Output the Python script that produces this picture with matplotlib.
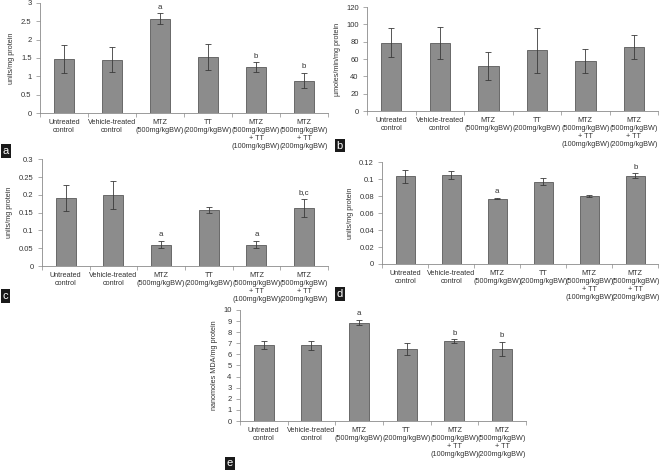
import matplotlib
matplotlib.use("Agg")
import matplotlib.pyplot as plt
import numpy as np

plt.rcParams['font.family'] = ['Liberation Sans', 'DejaVu Sans']

categories = ["Untreated\ncontrol", "Vehicle-treated\ncontrol", "MTZ\n(500mg/kgBW)",
              "TT\n(200mg/kgBW)", "MTZ\n(500mg/kgBW)\n+ TT\n(100mg/kgBW)",
              "MTZ\n(500mg/kgBW)\n+ TT\n(200mg/kgBW)"]

a_vals = [1.47, 1.45, 2.57, 1.53, 1.25, 0.88]
a_err = [0.38, 0.34, 0.14, 0.36, 0.13, 0.21]
a_sig = ["", "", "a", "", "b", "b"]

b_vals = [79, 79, 52, 70, 58, 74]
b_err = [17, 18.5, 16, 26, 14, 14]
b_sig = ["", "", "", "", "", ""]

c_vals = [0.192, 0.200, 0.060, 0.158, 0.060, 0.163]
c_err = [0.037, 0.040, 0.010, 0.008, 0.010, 0.025]
c_sig = ["", "", "a", "", "a", "b,c"]

d_vals = [0.103, 0.105, 0.077, 0.097, 0.080, 0.104]
d_err = [0.008, 0.005, 0.001, 0.004, 0.001, 0.003]
d_sig = ["", "", "a", "", "", "b"]

e_vals = [6.85, 6.80, 8.85, 6.50, 7.20, 6.50]
e_err = [0.35, 0.40, 0.25, 0.55, 0.15, 0.65]
e_sig = ["", "", "a", "", "b", "b"]

panels = [
    ("a", a_vals, a_err, a_sig, "units/mg protein", (0, 3), 0.5, "{:g}",
     [0.0607, 0.760, 0.437, 0.234], (0.004, 0.669)),
    ("b", b_vals, b_err, b_sig, "µmoles/min/mg protein", (0, 120), 20, "{:g}",
     [0.557, 0.764, 0.4416, 0.221], (0.511, 0.680)),
    ("c", c_vals, c_err, c_sig, "units/mg protein", (0, 0.3), 0.05, "{:g}",
     [0.0637, 0.435, 0.434, 0.227], (0.004, 0.361)),
    ("d", d_vals, d_err, d_sig, "units/mg protein", (0, 0.12), 0.02, "{:g}",
     [0.580, 0.4395, 0.419, 0.2165], (0.511, 0.365)),
    ("e", e_vals, e_err, e_sig, "nanomoles MDA/mg protein", (0, 10), 1, "{:g}",
     [0.364, 0.106, 0.434, 0.236], (0.344, 0.006)),
]

fig = plt.figure(figsize=(6.59, 4.71), dpi=100)
txt = "#333333"
axc = "#8a8a8a"
fs = 5.2

for letter, vals, errs, sigs, ylabel, ylim, step, fmt, pos, lpos in panels:
    ax = fig.add_axes(pos)
    x = np.arange(len(vals)) + 0.5
    ax.bar(x, vals, width=0.42, color="#8c8c8c", edgecolor="#5a5a5a", linewidth=0.6, zorder=2)
    ax.errorbar(x, vals, yerr=errs, fmt="none", ecolor="#3a3a3a", elinewidth=0.6,
                capsize=2, capthick=0.6, zorder=3)
    span = ylim[1] - ylim[0]
    for xi, v, e, s in zip(x, vals, errs, sigs):
        if s:
            ax.text(xi, v + e + span * 0.025, s, ha="center", va="bottom", fontsize=fs + 0.5, color=txt)
    ax.set_xlim(0, len(vals))
    ax.set_ylim(*ylim)
    ticks = np.arange(ylim[0], ylim[1] + step / 2, step)
    ax.set_yticks(ticks)
    ax.set_yticklabels([fmt.format(round(t, 4)) for t in ticks])
    ax.set_xticks(np.arange(0, len(vals) + 1))
    ax.set_xticklabels([])
    ax.set_xticks(x, minor=True)
    ax.set_xticklabels(categories, minor=True, fontsize=fs, color=txt, linespacing=1.2)
    ax.tick_params(axis="x", which="minor", length=0, pad=4)
    ax.tick_params(axis="x", which="major", length=3, width=0.5, color=axc, direction="out")
    ax.tick_params(axis="y", length=3, width=0.5, color=axc, labelsize=fs + 0.3, labelcolor=txt, pad=3)
    for sp in ["top", "right"]:
        ax.spines[sp].set_visible(False)
    for sp in ["left", "bottom"]:
        ax.spines[sp].set_color(axc)
        ax.spines[sp].set_linewidth(0.6)
    ax.set_ylabel(ylabel, fontsize=fs, color=txt, labelpad=4)
    fig.text(lpos[0], lpos[1], letter, fontsize=8, color="white", ha="left", va="bottom",
             bbox=dict(boxstyle="square,pad=0.15", facecolor="#1a1a1a", edgecolor="none"))

fig.savefig("out.png", dpi=100)
